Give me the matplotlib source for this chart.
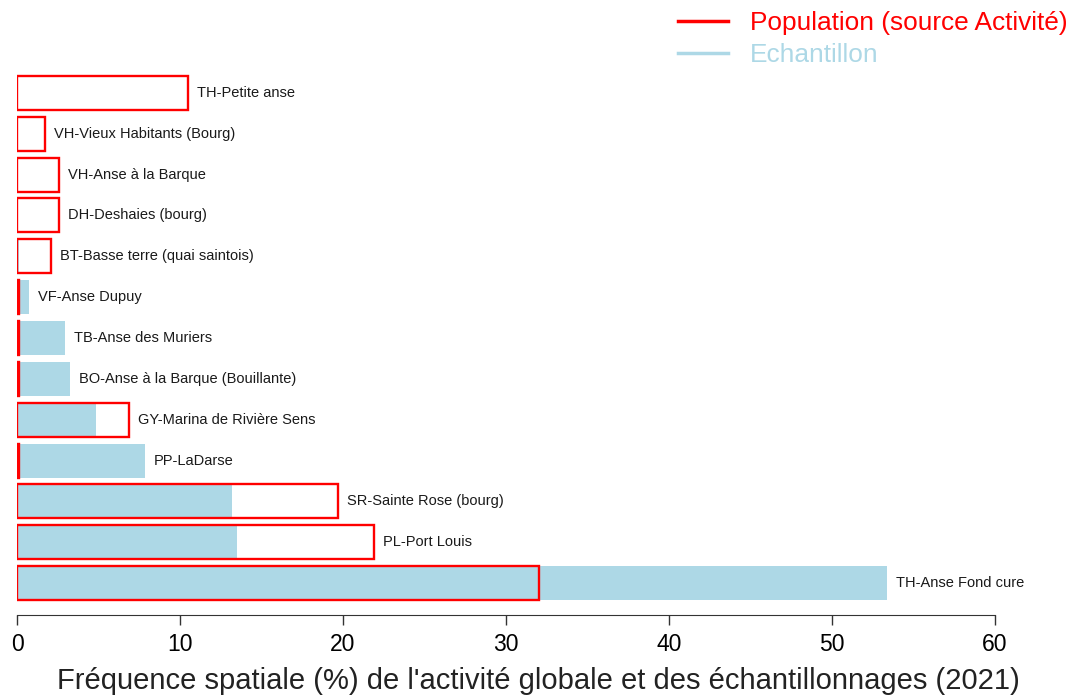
import matplotlib
matplotlib.use("Agg")
import matplotlib.pyplot as plt
from matplotlib.lines import Line2D

plt.rcParams['font.family'] = ['Liberation Sans', 'DejaVu Sans']

# Data (top to bottom in the chart)
sites = ["TH-Petite anse", "VH-Vieux Habitants (Bourg)", "VH-Anse à la Barque",
         "DH-Deshaies (bourg)", "BT-Basse terre (quai saintois)", "VF-Anse Dupuy",
         "TB-Anse des Muriers", "BO-Anse à la Barque (Bouillante)",
         "GY-Marina de Rivière Sens", "PP-LaDarse", "SR-Sainte Rose (bourg)",
         "PL-Port Louis", "TH-Anse Fond cure"]
population = [10.5, 1.7, 2.6, 2.6, 2.1, 0.1, 0.1, 0.1, 6.9, 0.1, 19.7, 21.9, 32.0]
echantillon = [0.0, 0.0, 0.0, 0.0, 0.15, 0.75, 2.95, 3.25, 4.85, 7.85, 13.2, 13.5, 53.4]
xticks = [0, 10, 20, 30, 40, 50, 60]

fig = plt.figure(figsize=(10.78, 6.98), dpi=100)
ax = fig.add_axes([17/1078, 1-615/698, (995-17)/1078, (615-70)/698])

n = len(sites)
ypos = [n - 1 - i for i in range(n)]
h = 0.83

ax.barh(ypos, echantillon, height=h, color='#ADD8E6', edgecolor='none', zorder=1)
ax.barh(ypos, population, height=h, facecolor='none', edgecolor='red', linewidth=1.7, zorder=2)

for y, name, p, e in zip(ypos, sites, population, echantillon):
    ax.text(max(p, e) + 0.55, y, name, va='center', ha='left', fontsize=10.5,
            color='#1a1a1a', clip_on=False)

ax.set_xlim(0, 60)
ax.set_ylim(-0.78, n - 1 + 0.56)
ax.set_xticks(xticks)
ax.set_yticks([])
for s in ['top', 'right', 'left']:
    ax.spines[s].set_visible(False)
ax.spines['bottom'].set_color('#333333')
ax.tick_params(axis='x', length=7, width=1, pad=6, labelsize=16.5, colors='#333333')
for lbl in ax.get_xticklabels():
    lbl.set_color('black')
ax.set_xlabel("Fréquence spatiale (%) de l'activité globale et des échantillonnages (2021)",
              fontsize=21, color='#222222')
ax.xaxis.set_label_coords((538-17)/978, -(681-615)/545, transform=ax.transAxes)
ax.xaxis.label.set_va('center')

handles = [Line2D([0], [0], color='red', lw=2.5),
           Line2D([0], [0], color='#ADD8E6', lw=2.5)]
fig.legend(handles, ["Population (source Activité)", "Echantillon"],
           loc='upper right', bbox_to_anchor=(1.0075, 1.01), frameon=False,
           fontsize=18.9, labelcolor=['red', '#ADD8E6'], handlelength=1.9,
           handletextpad=0.84, labelspacing=0.28, borderaxespad=0.3)

fig.savefig("out.png", dpi=100)
